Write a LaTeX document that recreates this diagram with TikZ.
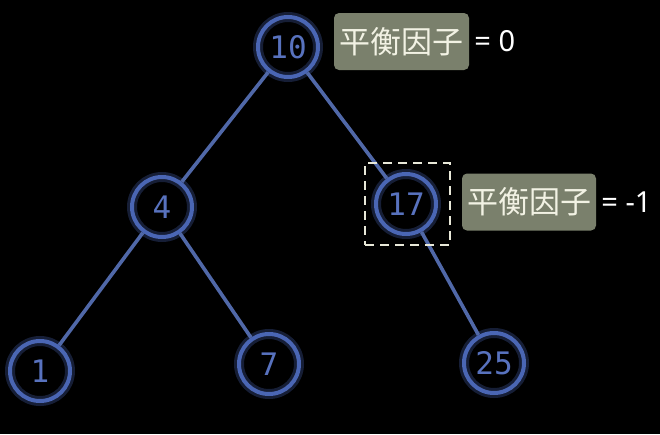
\documentclass[tikz,border=0pt]{standalone}
\usepackage{fontspec}
\setmainfont{Noto Sans}
\setmonofont{DejaVu Sans Mono}
\newfontfamily\cjk{Noto Sans CJK SC}
\begin{document}
\begin{tikzpicture}[x=1pt,y=-1pt,
  treenode/.style={circle,minimum size=60pt,inner sep=0pt,draw=nodeblue,line width=4pt,
     text=numblue,font=\ttfamily\fontsize{31}{31}\selectfont,
     preaction={draw=nodeblue,line width=10pt,draw opacity=0.3}},
  edge/.style={draw=edgeblue,line width=3.6pt},
  bfbox/.style={fill=boxgray,rounded corners=5pt,text=boxtext,inner xsep=5pt,inner ysep=8pt,
     font=\cjk\fontsize{31}{31}\selectfont,minimum height=57pt},
  eqtext/.style={text=white,font=\fontsize{29}{29}\selectfont,inner sep=0pt,anchor=west},
  selbox/.style={draw=dashcol,dashed,dash pattern=on 9pt off 6pt,line width=2.4pt}
]
\definecolor{nodeblue}{HTML}{4A66B4}
\definecolor{numblue}{HTML}{5872BE}
\definecolor{edgeblue}{HTML}{5068A8}
\definecolor{boxgray}{HTML}{7A806C}
\definecolor{boxtext}{HTML}{F2F2E4}
\definecolor{dashcol}{HTML}{E8E8D8}
\fill[black] (0,0) rectangle (660,434);
\useasboundingbox (0,0) rectangle (660,434);

\node[treenode] (n10) at (288,47) {10};
\node[treenode] (n4) at (162,207) {4};
\node[treenode] (n17) at (406,204) {17};
\node[treenode] (n1) at (40,371) {1};
\node[treenode] (n7) at (269,364) {7};
\node[treenode] (n25) at (494,363) {25};

\draw[edge] (n10) -- (n4);
\draw[edge] (n10) -- (n17);
\draw[edge] (n4) -- (n1);
\draw[edge] (n4) -- (n7);
\draw[edge] (n17) -- (n25);

\node[selbox,minimum width=85pt,minimum height=82pt,inner sep=0pt] (sel) at (407.5,204) {};

\node[bfbox,minimum width=135pt] (b1) at (401.5,41.5) {平衡因子};
\node[eqtext] (e1) at ([xshift=5pt]b1.east) {= 0};
\node[bfbox,minimum width=134pt] (b2) at (529,202) {平衡因子};
\node[eqtext] (e2) at ([xshift=5pt]b2.east) {= -1};
\end{tikzpicture}
\end{document}
